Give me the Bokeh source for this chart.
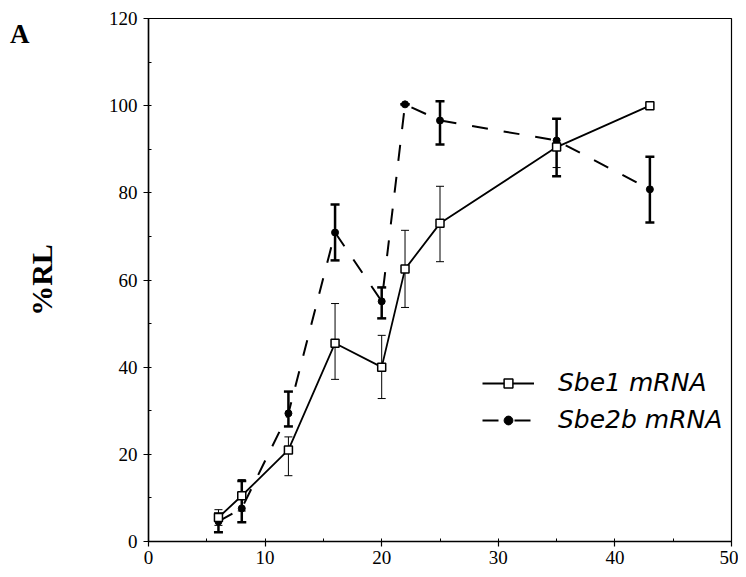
import math
from bokeh.plotting import figure
from bokeh.models import (ColumnDataSource, Whisker, TeeHead, Legend, LegendItem,
                          LinearAxis, FixedTicker, Range1d)
from bokeh.embed import file_html
from bokeh.resources import INLINE

# ---- data ----
sbe1_x = [6, 8, 12, 16, 20, 22, 25, 35, 43]
sbe1_y = [5.5, 10.5, 21, 45.5, 40, 62.5, 73, 90.5, 100]
sbe1_lo = [3.7, 7, 15.1, 37.2, 32.8, 53.7, 64.2, 85.8, 100]
sbe1_hi = [7.3, 14.2, 24, 54.6, 47.3, 71.4, 81.5, 97, 100]

sbe2_x = [6, 8, 12, 16, 20, 22, 25, 35, 43]
sbe2_y = [4.6, 7.6, 29.4, 70.9, 55.1, 100.3, 96.6, 92, 80.8]
sbe2_lo = [2.1, 4.4, 26.4, 64.5, 51.2, 100.3, 91.1, 83.8, 73.2]
sbe2_hi = [6.4, 13.9, 34.4, 77.3, 58.3, 100.3, 101, 97, 88.3]

x_ticks = [0, 10, 20, 30, 40, 50]
y_ticks = [0, 20, 40, 60, 80, 100, 120]
panel_letter = "A"
panel_letter_pos = 116.5

SERIF = "Liberation Serif"
W, H = 738, 569

p = figure(width=W, height=H, output_backend="svg", toolbar_location=None,
           x_range=Range1d(0, 50), y_range=Range1d(0, 120),
           min_border_left=148, min_border_right=7, min_border_top=18,
           min_border_bottom=28)
p.grid.visible = False
p.outline_line_color = "black"
p.outline_line_width = 1.2

for ax in (p.xaxis[0], p.yaxis[0]):
    ax.axis_line_width = 1.5
    ax.major_tick_line_width = 1.2
    ax.minor_tick_line_width = 1
    ax.major_tick_out = 5
    ax.major_tick_in = 0
    ax.minor_tick_in = 3
    ax.minor_tick_out = 0
    ax.major_label_text_font = SERIF
    ax.major_label_text_font_size = "19px"
    ax.major_label_text_color = "black"

p.xaxis.ticker = FixedTicker(ticks=x_ticks, minor_ticks=list(range(0, 51, 5)))
p.yaxis.ticker = FixedTicker(ticks=y_ticks, minor_ticks=list(range(0, 121, 10)))
p.xaxis.major_label_standoff = 4
p.yaxis.major_label_standoff = 6

p.yaxis.axis_label = "%RL"
p.yaxis.axis_label_text_font = SERIF
p.yaxis.axis_label_text_font_style = "bold"
p.yaxis.axis_label_text_font_size = "30px"
p.yaxis.axis_label_text_color = "black"
p.yaxis.axis_label_standoff = 48

# panel letter as an extra, invisible left axis carrying one label
letter_axis = LinearAxis(ticker=FixedTicker(ticks=[panel_letter_pos], minor_ticks=[]),
                         major_label_overrides={panel_letter_pos: panel_letter},
                         axis_line_alpha=0, major_tick_line_alpha=0,
                         minor_tick_line_alpha=0, major_tick_out=0,
                         major_tick_in=0,
                         major_label_standoff=-8,
                         major_label_text_font=SERIF,
                         major_label_text_font_style="bold",
                         major_label_text_font_size="27px",
                         major_label_text_color="black")
p.add_layout(letter_axis, "left")

s1 = ColumnDataSource(dict(x=sbe1_x, y=sbe1_y, lo=sbe1_lo, hi=sbe1_hi))
s2 = ColumnDataSource(dict(x=sbe2_x, y=sbe2_y, lo=sbe2_lo, hi=sbe2_hi))

w1 = Whisker(source=s1, base="x", lower="lo", upper="hi", line_width=1,
             line_color="black",
             upper_head=TeeHead(size=8, line_width=1, line_color="black"),
             lower_head=TeeHead(size=8, line_width=1, line_color="black"))
w2 = Whisker(source=s2, base="x", lower="lo", upper="hi", line_width=2.5,
             line_color="black",
             upper_head=TeeHead(size=9, line_width=2.5, line_color="black"),
             lower_head=TeeHead(size=9, line_width=2.5, line_color="black"))
p.add_layout(w1)
p.add_layout(w2)

l2 = p.line("x", "y", source=s2, line_color="black", line_width=2,
            line_dash="16 16")
m2 = p.scatter("x", "y", source=s2, marker="circle", size=7,
               fill_color="black", line_color="black")
l1 = p.line("x", "y", source=s1, line_color="black", line_width=1.8)
m1 = p.scatter("x", "y", source=s1, marker="square", size=8,
               fill_color="white", line_color="black", line_width=1.5)

legend = Legend(items=[LegendItem(label="Sbe1 mRNA", renderers=[l1, m1]),
                       LegendItem(label="Sbe2b mRNA", renderers=[l2, m2])],
                location=(334, 107), background_fill_alpha=0,
                border_line_alpha=0, glyph_width=52, glyph_height=22,
                label_text_font="DejaVu Sans", label_text_font_style="italic",
                label_text_font_size="25px", label_text_color="black",
                spacing=8, label_standoff=24, padding=0, margin=0)
p.add_layout(legend)

open("out.html", "w").write(file_html(p, INLINE))
